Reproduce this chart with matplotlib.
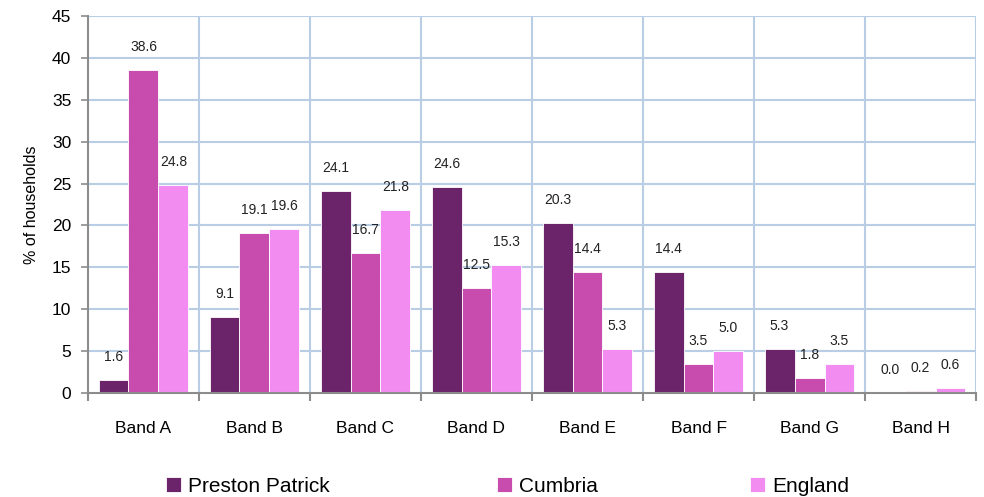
import matplotlib
matplotlib.use("Agg")
import matplotlib.pyplot as plt
import numpy as np

categories = ["Band A", "Band B", "Band C", "Band D", "Band E", "Band F", "Band G", "Band H"]
preston_patrick = [1.6, 9.1, 24.1, 24.6, 20.3, 14.4, 5.3, 0.0]
cumbria = [38.6, 19.1, 16.7, 12.5, 14.4, 3.5, 1.8, 0.2]
england = [24.8, 19.6, 21.8, 15.3, 5.3, 5.0, 3.5, 0.6]
series_names = ["Preston Patrick", "Cumbria", "England"]
colors = ["#6B2369", "#C84BAE", "#F28CF0"]
y_ticks = list(range(0, 50, 5))

plt.rcParams["font.family"] = ["Liberation Sans", "DejaVu Sans"]

fig = plt.figure(figsize=(9.84, 4.97), dpi=100)
ax = fig.add_axes([0.0894, 0.2093, 0.9919 - 0.0894, 0.9678 - 0.2093])

x = np.arange(len(categories))
width = 0.27
grid_color = "#B9CDE5"

ax.set_xlim(-0.5, len(categories) - 0.5)
ax.set_ylim(0, 45)

# grid: horizontal at each y tick, vertical at category boundaries
for yv in y_ticks[1:]:
    ax.axhline(yv, color=grid_color, lw=1.5, zorder=0)
for xb in np.arange(0.5, len(categories), 1.0):
    ax.axvline(xb, color=grid_color, lw=1.5, zorder=0)

all_series = [preston_patrick, cumbria, england]
bar_groups = []
for i, (vals, name, c) in enumerate(zip(all_series, series_names, colors)):
    pos = x + (i - 1) * width
    bars = ax.bar(pos, vals, width, color=c, edgecolor="white", linewidth=0.6,
                  label=name, zorder=2)
    bar_groups.append(bars)
    for b, v in zip(bars, vals):
        ax.annotate(f"{v:.1f}", (b.get_x() + b.get_width() / 2, v),
                    xytext=(0, 23), textcoords="offset pixels",
                    ha="center", va="center", fontsize=10, color="#222222")

for side in ["top", "right"]:
    ax.spines[side].set_visible(False)
ax.spines["left"].set_color("#8C8C8C")
ax.spines["bottom"].set_color("#8C8C8C")
ax.spines["left"].set_linewidth(1.5)
ax.spines["bottom"].set_linewidth(1.5)

ax.set_yticks(y_ticks)
ax.set_yticklabels([str(v) for v in y_ticks], fontsize=12.5)
ax.tick_params(axis="y", length=5, width=1.2, color="#8C8C8C", pad=7)

ax.set_xticks(x)
ax.set_xticklabels(categories, fontsize=12.5)
ax.tick_params(axis="x", which="major", length=0, pad=20)
ax.set_xticks(np.arange(-0.5, len(categories), 1.0), minor=True)
ax.tick_params(axis="x", which="minor", length=6, width=1.5, color="#8C8C8C")

ax.set_ylabel("% of households", fontsize=11.5, labelpad=9)

# legend entries spread along the bottom, one per series
legend_x = [0.1687, 0.5051, 0.7622]
for bars, name, lx in zip(bar_groups, series_names, legend_x):
    leg = fig.legend([bars], [name], loc="lower left", bbox_to_anchor=(lx, 0.002),
                     frameon=False, fontsize=15, handlelength=0.7, handleheight=0.7,
                     handletextpad=0.35, borderpad=0, borderaxespad=0)

fig.savefig("out.png", dpi=100)
